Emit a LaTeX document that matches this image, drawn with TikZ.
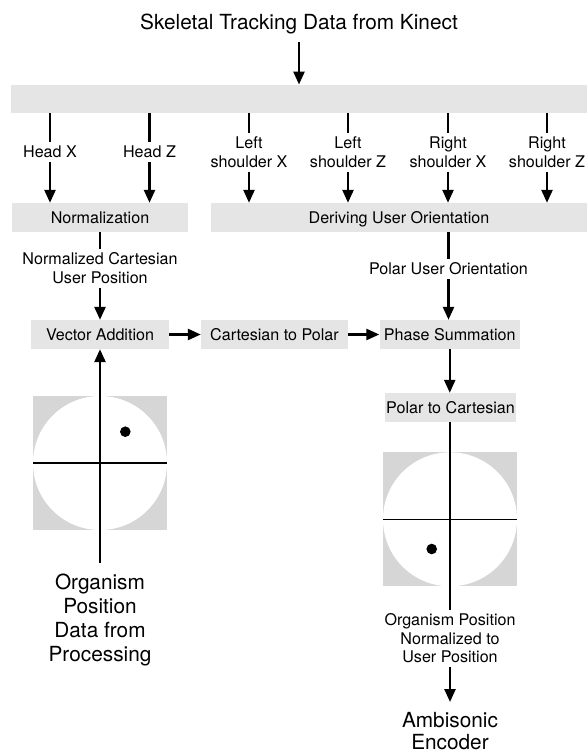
\documentclass[tikz,border=0pt]{standalone}
\usepackage{fontspec}
\setmainfont{TeX Gyre Heros}
\usetikzlibrary{arrows.meta}
\definecolor{boxgray}{HTML}{E5E5E5}
\definecolor{squaregray}{HTML}{D6D6D6}

\begin{document}
\begin{tikzpicture}[x=1pt,y=-1pt,
  ln/.style={line width=2.5pt},
  arr/.style={line width=2.5pt,-{Triangle[length=13pt,width=11pt]}},
  fine/.style={line width=1.3pt},
  stage/.style={fill=boxgray, inner sep=0pt, minimum height=29pt,
    text height=11.6pt, text depth=0pt, font=\fontsize{16.1}{19}\selectfont},
  lbl/.style={align=center, inner xsep=2pt, inner ysep=3.75pt,
    font=\fontsize{16.1}{19}\selectfont},
  big/.style={align=center, font=\fontsize{20.8}{23.8}\selectfont},
  plate/.style={fill=squaregray, minimum size=134pt, inner sep=0pt},
  disc/.style={circle, fill=white, minimum size=134pt, inner sep=0pt},
  dot/.style={circle, fill=black, minimum size=10.6pt, inner sep=0pt}
]
\useasboundingbox (0,0) rectangle (587,751);

% source of the skeleton data
\node[big, anchor=base, inner sep=7.6pt] (title) at (299,30)
  {Skeletal Tracking Data from Kinect};
\node[fill=boxgray, minimum width=576pt, minimum height=28.5pt, inner sep=0pt]
  (bar) at (299,99) {};
\draw[arr] (title.south) -- (bar.north);

% processing stages
\node[stage, minimum width=176pt] (norm) at (100,217.5) {Normalization};
\node[stage, minimum width=376pt] (deriv) at (399,217.5) {Deriving User Orientation};
\node[stage, minimum width=138pt] (vec) at (100,334.5) {Vector Addition};
\node[stage, minimum width=147pt] (c2p) at (274.5,334.5) {Cartesian to Polar};
\node[stage, minimum width=140.5pt] (phase) at (449.75,334.5) {Phase Summation};
\node[stage, minimum width=131pt] (p2c) at (450.5,407.5) {Polar to Cartesian};

% joint channels
\node[lbl] (hx) at (50,152.2) {Head X};
\node[lbl] (hz) at (149.5,152.2) {Head Z};
\node[lbl] (lsx) at (249,152.2) {Left\\shoulder X};
\node[lbl] (lsz) at (348,152.2) {Left\\shoulder Z};
\node[lbl] (rsx) at (448,152.2) {Right\\shoulder X};
\node[lbl] (rsz) at (547,152.2) {Right\\shoulder Z};

\foreach \j/\t in {hx/norm, hz/norm, lsx/deriv, lsz/deriv, rsx/deriv, rsz/deriv}{
  \draw[ln] (bar.south -| \j) -- (\j);
  \draw[arr] (\j) -- (\t.north -| \j);
}

% user position and orientation
\node[lbl, inner ysep=4pt] (ncu) at (100,268.4) {Normalized Cartesian\\User Position};
\draw[ln] (norm) -- (ncu);
\draw[arr] (ncu) -- (vec);

\node[lbl] (puo) at (448.5,268.9) {Polar User Orientation};
\draw[ln] (deriv.south -| puo) -- (puo);
\draw[arr] (puo) -- (phase.north -| puo);

\draw[arr] (vec) -- (c2p);
\draw[arr] (c2p) -- (phase);
\draw[arr] (phase.south) -- (phase.south |- p2c.north);

% organism position plane
\node[plate] (plateL) at (100,463) {};
\node[disc] (discL) at (plateL) {};
\draw[fine] (plateL.west) -- (plateL.east);
\draw[fine] (plateL.north) -- (plateL.south);
\node[dot] (dotL) at (125.3,431.7) {};
\draw[arr] (plateL.north) -- (vec.south);
\node[big, anchor=north, inner ysep=11pt] (org) at (100,563)
  {Organism\\Position\\Data from\\Processing};
\draw[ln] (org.north) -- (plateL.south);

% position relative to the user
\node[plate] (plateR) at (450,519.3) {};
\node[disc] (discR) at (plateR) {};
\draw[fine] (plateR.west) -- (plateR.east);
\draw[fine] (plateR.north) -- (plateR.south);
\node[dot] (dotR) at (431.7,549) {};
\draw[ln] (p2c.south -| plateR.north) -- (plateR.north);

\node[lbl, font=\fontsize{16.1}{18.6}\selectfont] (opn) at (450,638.5)
  {Organism Position\\Normalized to\\User Position};
\draw[ln] (plateR.south) -- (opn);
\node[big, anchor=north, inner ysep=10pt, font=\fontsize{20.8}{22}\selectfont]
  (amb) at (450,702) {Ambisonic\\Encoder};
\draw[arr] (opn) -- (amb.north);
\end{tikzpicture}
\end{document}
